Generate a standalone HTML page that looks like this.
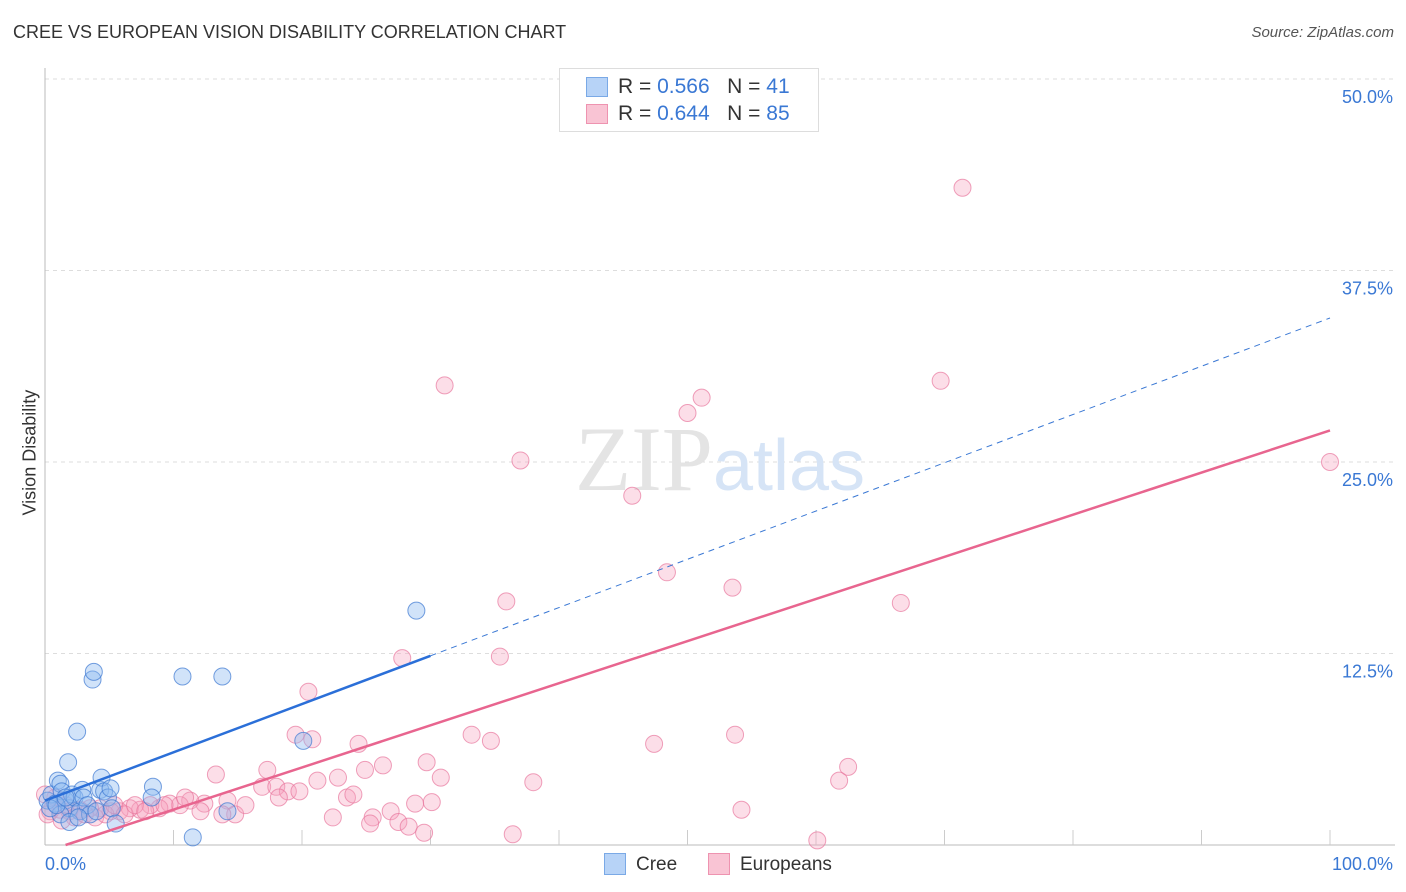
<!DOCTYPE html>
<html><head><meta charset="utf-8"><style>
body{margin:0;background:#fff;font-family:"Liberation Sans",sans-serif;}
#wrap{position:relative;width:1406px;height:892px;overflow:hidden}
.t{position:absolute;white-space:nowrap}
</style></head><body><div id="wrap">
<div class="t" style="left:13px;top:22px;font-size:18px;color:#333">CREE VS EUROPEAN VISION DISABILITY CORRELATION CHART</div>
<div class="t" style="right:12px;top:24px;font-size:15px;color:#555;font-style:italic">Source: ZipAtlas.com</div>
<div class="t" style="left:-30px;top:445px;transform:rotate(-90deg);transform-origin:center;font-size:18px;color:#333;width:120px;text-align:center">Vision Disability</div>
<svg id="svg" width="1406" height="892" style="position:absolute;left:0;top:0"></svg>
<div style="position:absolute;left:559px;top:68px;width:258px;height:62px;border:1px solid #ddd;background:#fff">
 <div style="position:absolute;left:26px;top:8px;width:20px;height:18px;background:#b7d3f7;border:1px solid #7aa9e6"></div>
 <div class="t" style="left:58px;top:6px;font-size:21px;color:#333">R = <span style="color:#3a78d4">0.566</span>&nbsp;&nbsp;&nbsp;N = <span style="color:#3a78d4">41</span></div>
 <div style="position:absolute;left:26px;top:35px;width:20px;height:18px;background:#f9c4d4;border:1px solid #ee93b0"></div>
 <div class="t" style="left:58px;top:33px;font-size:21px;color:#333">R = <span style="color:#3a78d4">0.644</span>&nbsp;&nbsp;&nbsp;N = <span style="color:#3a78d4">85</span></div>
</div>
<div style="position:absolute;left:604px;top:853px;width:20px;height:20px;background:#b7d3f7;border:1px solid #7aa9e6"></div>
<div class="t" style="left:636px;top:854px;font-size:19px;color:#333">Cree</div>
<div style="position:absolute;left:708px;top:853px;width:20px;height:20px;background:#f9c4d4;border:1px solid #ee93b0"></div>
<div class="t" style="left:740px;top:854px;font-size:19px;color:#333">Europeans</div>
</div>
<script>
const yTicks=[12.5,25,37.5,50];
const yTickLabels=["12.5%","25.0%","37.5%","50.0%"];
const xLabels=["0.0%","100.0%"];
const creeX=[0.2,0.5,0.8,1.0,1.2,1.3,1.6,1.8,1.9,2.1,2.3,2.5,2.7,2.9,3.0,3.3,3.5,3.7,3.8,4.0,4.3,4.4,4.6,4.9,5.1,5.2,5.5,8.4,8.3,10.7,11.5,13.8,14.2,20.1,28.9,1.2,1.9,2.6,0.4,0.9,1.6];
const creeY=[2.9,3.3,2.7,4.2,4.0,3.5,2.9,5.4,2.4,3.3,3.1,7.4,2.2,3.6,3.1,2.6,2.0,10.8,11.3,2.2,3.6,4.4,3.5,3.1,3.7,2.4,1.4,3.8,3.1,11.0,0.5,11.0,2.2,6.8,15.3,2.0,1.5,1.8,2.4,2.6,3.1];
const euroX=[71.4,69.7,100,31.1,51.1,50.0,37.0,45.7,48.4,53.5,35.9,66.6,27.8,35.4,20.5,19.5,20.8,24.4,33.2,34.7,47.4,53.7,29.7,26.3,24.9,30.8,38.0,62.5,61.8,13.3,17.3,21.2,22.8,16.9,18.0,18.9,19.8,18.2,23.5,24.0,30.1,28.8,26.9,25.5,22.4,25.3,27.5,28.3,29.5,36.4,54.2,60.1,14.2,14.8,13.8,15.6,12.4,11.3,10.5,9.7,8.9,8.2,7.4,6.6,5.8,5.1,4.3,3.5,2.7,1.9,1.2,0.4,0.8,1.6,2.3,3.1,3.9,4.7,5.4,6.2,7.0,7.8,9.3,10.9,12.1,0,0.2,1.3];
const euroY=[42.9,30.3,25.0,30.0,29.2,28.2,25.1,22.8,17.8,16.8,15.9,15.8,12.2,12.3,10.0,7.2,6.9,6.6,7.2,6.8,6.6,7.2,5.4,5.2,4.9,4.4,4.1,5.1,4.2,4.6,4.9,4.2,4.4,3.8,3.8,3.5,3.5,3.1,3.1,3.3,2.8,2.7,2.2,1.8,1.8,1.4,1.5,1.2,0.8,0.7,2.3,0.3,2.9,2.0,2.0,2.6,2.7,2.9,2.6,2.7,2.4,2.6,2.3,2.4,2.2,2.2,2.4,2.4,2.3,2.2,2.3,2.2,3.1,2.6,1.8,2.0,1.8,2.0,2.6,2.0,2.6,2.2,2.6,3.1,2.2,3.3,2.0,1.6];
const creeFit=[2.9,0.315];
const euroFit=[-0.44,0.275];
const X=v=>45+v*12.85, Y=v=>845-v*15.32;
const svg=document.getElementById('svg');const NS='http://www.w3.org/2000/svg';
function mk(t,a){const e=document.createElementNS(NS,t);for(const k in a)e.setAttribute(k,a[k]);svg.appendChild(e);return e;}
yTicks.forEach((t,i)=>{
 const g=mk('line',{x1:45,x2:1395,y1:Y(t),y2:Y(t),stroke:'#ddd','stroke-dasharray':'4,4'});
 
 
 const l=mk('text',{x:1393,y:Y(t)+24,'text-anchor':'end','font-size':18,fill:'#3a78d4','font-family':'Liberation Sans'});l.textContent=yTickLabels[i];
 
 
});
const ax=mk('line',{x1:45,x2:45,y1:68,y2:845,stroke:'#bbb'});


const bx=mk('line',{x1:45,x2:1395,y1:845,y2:845,stroke:'#bbb'});


for(let i=1;i<=10;i++){const tk=mk('line',{x1:X(i*10),x2:X(i*10),y1:830,y2:845,stroke:'#ccc'});
 
 }
[[0,'start',45],[1,'end',1393]].forEach(([i,a,x])=>{const l=mk('text',{x:x,y:870,'text-anchor':a,'font-size':18,fill:'#3a78d4','font-family':'Liberation Sans'});l.textContent=xLabels[i];
 
 });
const wm=mk('text',{x:720,y:490,'text-anchor':'middle','font-size':92,fill:'#e4e4e4','font-family':'Liberation Serif'});wm.innerHTML='ZIP<tspan fill="#d6e4f6" font-family="Liberation Sans" font-size="72">atlas</tspan>';


euroX.forEach((x,i)=>{const c=mk('circle',{cx:X(x),cy:Y(euroY[i]),r:8.5,fill:'rgba(246,160,188,0.35)',stroke:'rgba(232,120,158,0.7)','stroke-width':1});
 
 });
creeX.forEach((x,i)=>{const c=mk('circle',{cx:X(x),cy:Y(creeY[i]),r:8.5,fill:'rgba(140,184,240,0.4)',stroke:'rgba(60,120,210,0.7)','stroke-width':1});
 
 });
const f=(fit,x)=>fit[0]+fit[1]*x;
const ld=mk('line',{x1:X(30),y1:Y(f(creeFit,30)),x2:X(100),y2:Y(f(creeFit,100)),stroke:'#3a78d4','stroke-width':1,'stroke-dasharray':'6,5'});


const lc=mk('line',{x1:X(0),y1:Y(f(creeFit,0)),x2:X(30),y2:Y(f(creeFit,30)),stroke:'#2b6fd8','stroke-width':2.5});


const x0=-euroFit[0]/euroFit[1];
const le=mk('line',{x1:X(x0),y1:Y(0),x2:X(100),y2:Y(f(euroFit,100)),stroke:'#e8658f','stroke-width':2.5});


</script>
</body></html>
